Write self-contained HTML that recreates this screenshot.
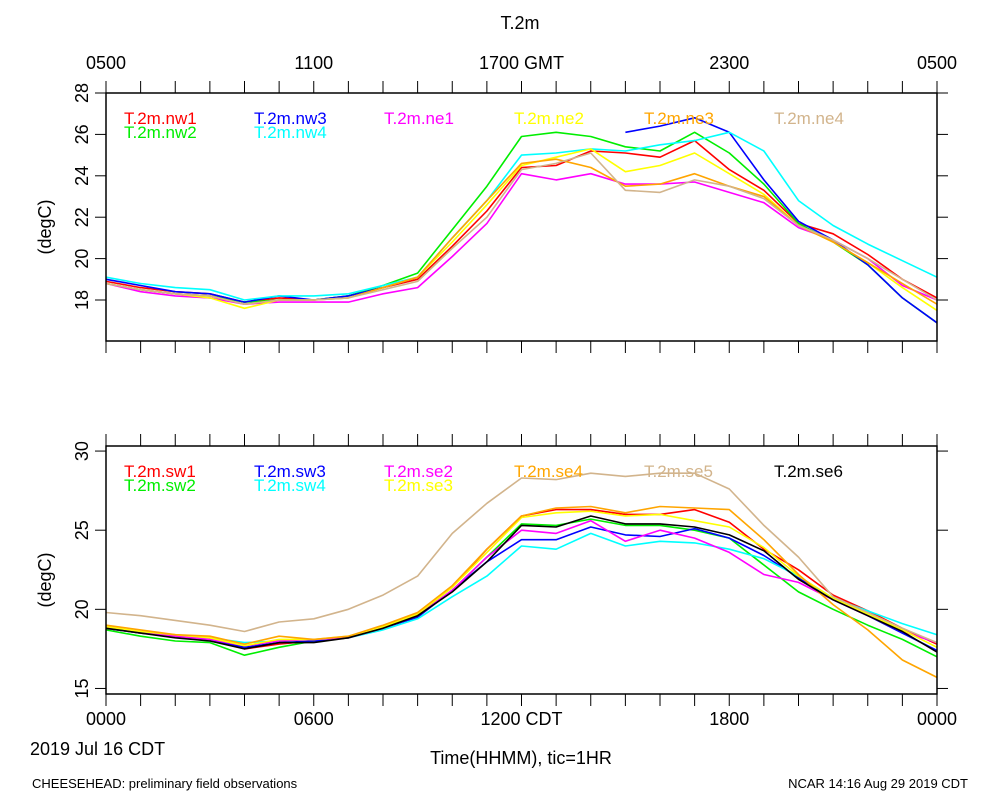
<!DOCTYPE html>
<html><head><meta charset="utf-8"><style>
body{margin:0;background:#fff;}
svg text{font-family:"Liberation Sans",Arial,sans-serif;}
</style></head><body>
<svg id="chart" width="1000" height="800" viewBox="0 0 1000 800" xmlns="http://www.w3.org/2000/svg">
<rect x="0" y="0" width="1000" height="800" fill="#fff"/>
<text x="520" y="29" font-size="18" text-anchor="middle">T.2m</text>
<text x="32" y="788" font-size="13">CHEESEHEAD: preliminary field observations</text>
<text x="968" y="788" font-size="13" text-anchor="end">NCAR 14:16 Aug 29 2019 CDT</text>
<text x="30" y="755" font-size="18">2019 Jul 16 CDT</text>
<text x="521" y="764" font-size="18" text-anchor="middle">Time(HHMM), tic=1HR</text>
<g id="g"></g>
</svg>
<script>
const hours = [0,1,2,3,4,5,6,7,8,9,10,11,12,13,14,15,16,17,18,19,20,21,22,23,24];
const topTickLabels = ["0500","1100","1700 GMT","2300","0500"];
const bottomTickLabels = ["0000","0600","1200 CDT","1800","0000"];
const topYTicks = [18,20,22,24,26,28];
const bottomYTicks = [15,20,25,30];
const topNames = ["T.2m.nw1","T.2m.nw2","T.2m.nw3","T.2m.nw4","T.2m.ne1","T.2m.ne2","T.2m.ne3","T.2m.ne4"];
const bottomNames = ["T.2m.sw1","T.2m.sw2","T.2m.sw3","T.2m.sw4","T.2m.se2","T.2m.se3","T.2m.se4","T.2m.se5","T.2m.se6"];
const nw1 = [18.9,18.6,18.4,18.3,17.9,18.1,18.0,18.2,18.6,19.0,20.6,22.3,24.4,24.5,25.2,25.1,24.9,25.7,24.3,23.3,21.7,21.2,20.2,19.0,18.1];
const nw2 = [18.8,18.5,18.3,18.2,17.9,18.0,18.0,18.2,18.7,19.3,21.4,23.5,25.9,26.1,25.9,25.4,25.2,26.1,25.1,23.6,21.7,20.8,19.7,18.1,16.9];
const nw3 = [19.0,18.7,18.4,18.3,17.9,18.2,18.0,18.2,18.6,19.1,null,null,null,null,null,26.1,26.4,26.8,26.1,23.8,21.8,20.9,19.7,18.1,16.9];
const nw4 = [19.1,18.8,18.6,18.5,18.0,18.2,18.2,18.3,18.7,19.1,21.0,22.8,25.0,25.1,25.3,25.2,25.5,25.7,26.1,25.2,22.8,21.6,20.7,19.9,19.1];
const ne1 = [18.8,18.4,18.2,18.1,17.8,17.9,17.9,17.9,18.3,18.6,20.1,21.7,24.1,23.8,24.1,23.6,23.6,23.7,23.2,22.7,21.5,20.9,20.0,18.7,18.0];
const ne2 = [18.8,18.5,18.3,18.1,17.6,18.0,18.0,18.1,18.6,19.1,20.8,22.6,24.5,24.9,25.3,24.2,24.5,25.1,24.1,23.1,21.6,20.8,19.8,18.6,17.5];
const ne3 = [18.8,18.5,18.3,18.2,17.8,18.0,18.0,18.1,18.6,19.1,21.0,22.8,24.6,24.8,24.4,23.5,23.6,24.1,23.5,23.0,21.6,20.8,19.8,18.8,17.8];
const ne4 = [18.8,18.5,18.3,18.2,17.8,18.0,18.0,18.1,18.5,18.9,20.5,22.0,24.3,24.6,25.1,23.3,23.2,23.8,23.5,22.9,21.6,20.9,20.0,19.0,18.0];
const sw1 = [18.8,18.5,18.3,18.1,17.5,17.8,18.0,18.2,18.9,19.7,21.4,23.8,25.9,26.3,26.3,26.0,26.0,26.3,25.5,23.8,22.5,20.9,19.9,18.8,17.8];
const sw2 = [18.7,18.3,18.0,17.9,17.1,17.6,18.0,18.2,18.9,19.6,21.2,23.3,25.4,25.3,25.7,25.3,25.3,25.0,24.5,22.8,21.1,20.0,19.0,18.1,17.0];
const sw3 = [18.8,18.5,18.3,18.1,17.6,17.9,18.0,18.2,18.8,19.5,21.2,23.0,24.4,24.4,25.2,24.7,24.6,25.1,24.5,23.4,22.0,20.6,19.6,18.5,17.4];
const sw4 = [18.8,18.5,18.3,18.2,17.9,18.0,18.1,18.2,18.7,19.4,20.8,22.1,24.0,23.8,24.8,24.0,24.3,24.2,23.8,23.2,22.1,20.7,19.9,19.1,18.4];
const se2 = [18.8,18.5,18.3,18.1,17.7,18.0,18.1,18.2,18.8,19.6,21.2,23.3,25.0,24.8,25.6,24.3,25.0,24.5,23.6,22.2,21.7,20.6,19.6,18.6,17.9];
const se3 = [18.9,18.6,18.4,18.2,17.7,18.1,18.1,18.3,18.9,19.7,21.4,23.6,25.8,26.1,26.2,25.9,26.0,25.6,25.2,23.9,22.1,20.7,19.7,18.7,17.6];
const se4 = [19.0,18.7,18.4,18.3,17.8,18.3,18.1,18.3,19.0,19.8,21.5,23.8,25.9,26.4,26.5,26.1,26.5,26.4,26.3,24.4,22.2,20.3,18.7,16.8,15.7];
const se5 = [19.8,19.6,19.3,19.0,18.6,19.2,19.4,20.0,20.9,22.1,24.8,26.7,28.3,28.2,28.6,28.4,28.6,28.6,27.6,25.3,23.3,20.8,19.8,18.8,17.9];
const se6 = [18.8,18.5,18.2,18.0,17.5,17.9,17.9,18.2,18.8,19.6,21.1,23.0,25.3,25.2,25.9,25.4,25.4,25.2,24.7,23.7,21.9,20.6,19.6,18.6,17.3];

const topSeries = [nw1,nw2,nw3,nw4,ne1,ne2,ne3,ne4];
const bottomSeries = [sw1,sw2,sw3,sw4,se2,se3,se4,se5,se6];
const topColors = ["#ff0000","#00ee00","#0000ff","#00ffff","#ff00ff","#ffff00","#ffa500","#d2b48c"];
const bottomColors = ["#ff0000","#00ee00","#0000ff","#00ffff","#ff00ff","#ffff00","#ffa500","#d2b48c","#000000"];

const NS = "http://www.w3.org/2000/svg";
const g = document.getElementById('g');
const X0 = 106, X1 = 937;
function xs(h){ return X0 + (X1 - X0) * h / 24; }
function mk(tag, attrs, parent){ const e = document.createElementNS(NS, tag); for (const k in attrs) e.setAttribute(k, attrs[k]); (parent||g).appendChild(e); return e; }

function panel(cfg){
  const ys = v => cfg.top + (cfg.vmax - v) * (cfg.bot - cfg.top) / (cfg.vmax - cfg.vmin);
  const pg = mk('g', {});
  
  
  // series
  cfg.series.forEach((s, i) => {
    let d = ""; let pen = false;
    s.forEach((v, j) => {
      if (v === null) { pen = false; return; }
      d += (pen ? "L" : "M") + xs(hours[j]).toFixed(1) + " " + ys(v).toFixed(1);
      pen = true;
    });
    const p = mk('path', {d: d, fill: 'none', stroke: cfg.colors[i], 'stroke-width': 1.6, 'stroke-linejoin': 'round'}, pg);
    
    
  });
  // box
  const box = mk('rect', {x: X0, y: cfg.top, width: X1 - X0, height: cfg.bot - cfg.top, fill: 'none', stroke: '#000', 'stroke-width': 1.5}, pg);
  
  
  // x ticks
  for (let h = 0; h <= 24; h++) {
    const x = xs(h);
    mk('line', {x1: x, x2: x, y1: cfg.top, y2: cfg.top - 12, stroke: '#000', 'stroke-width': 1}, pg);
    mk('line', {x1: x, x2: x, y1: cfg.bot, y2: cfg.bot + 12, stroke: '#000', 'stroke-width': 1}, pg);
  }
  // y ticks
  cfg.yticks.forEach(v => {
    const y = ys(v);
    mk('line', {x1: X0, x2: X0 - 11, y1: y, y2: y, stroke: '#000', 'stroke-width': 1}, pg);
    mk('line', {x1: X1, x2: X1 + 11, y1: y, y2: y, stroke: '#000', 'stroke-width': 1}, pg);
    const t = mk('text', {x: 0, y: 0, 'font-size': 18, 'text-anchor': 'middle', transform: 'translate(' + (X0 - 18) + ',' + y + ') rotate(-90)'}, pg);
    t.textContent = v;
    
    
  });
  const yt = mk('text', {x: 0, y: 0, 'font-size': 18, 'text-anchor': 'middle', transform: 'translate(51,' + ((cfg.top + cfg.bot) / 2 + 10) + ') rotate(-90)'}, pg);
  yt.textContent = '(degC)';
  
  
  // x labels
  cfg.xlabels.forEach((lab, i) => {
    const t = mk('text', {x: xs(i * 6), y: cfg.xlabY, 'font-size': 18, 'text-anchor': 'middle'}, pg);
    t.textContent = lab;
    
    
  });
  // legend
  cfg.names.forEach((n, i) => {
    const col = Math.floor(i / 2) , row = i % 2;
    let cx, cy;
    if (cfg.legendLayout === 'top') {
      const pos = [[0,0],[0,1],[1,0],[1,1],[2,0],[3,0],[4,0],[5,0]][i];
      cx = 124 + pos[0] * 130; cy = cfg.top + 31 + pos[1] * 14;
    } else {
      const pos = [[0,0],[0,1],[1,0],[1,1],[2,0],[2,1],[3,0],[4,0],[5,0]][i];
      cx = 124 + pos[0] * 130; cy = cfg.top + 31 + pos[1] * 14;
    }
    const t = mk('text', {x: cx, y: cy, 'font-size': 17, fill: cfg.colors[i]}, pg);
    t.textContent = n;
    
    
  });
}

panel({name: 'top-panel', top: 93, bot: 341, vmin: 16.02, vmax: 28, series: topSeries, colors: topColors, names: topNames, yticks: topYTicks, xlabels: topTickLabels, xlabY: 69, legendLayout: 'top'});
panel({name: 'bottom-panel', top: 446, bot: 694, vmin: 14.65, vmax: 30.32, series: bottomSeries, colors: bottomColors, names: bottomNames, yticks: bottomYTicks, xlabels: bottomTickLabels, xlabY: 725, legendLayout: 'bottom'});
</script>
</body></html>
